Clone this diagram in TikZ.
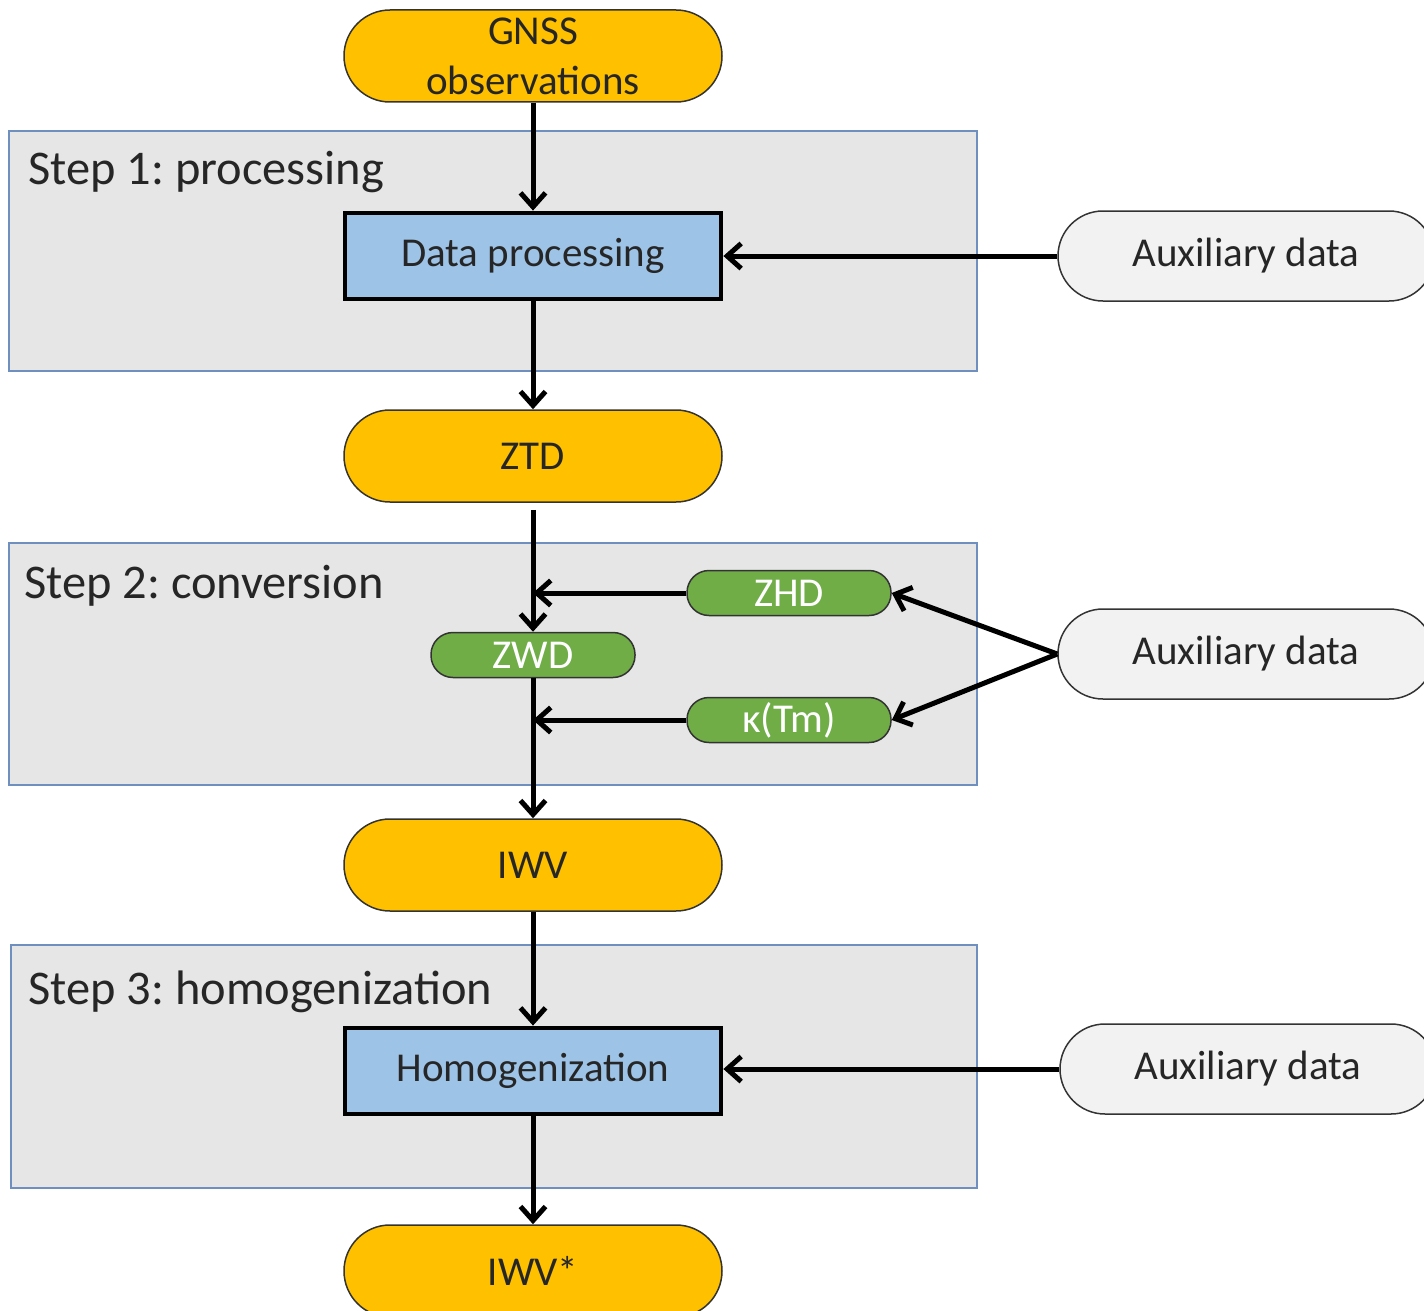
\documentclass[tikz,border=0pt]{standalone}
\usepackage{fontspec}
\setmainfont{Carlito}
\usetikzlibrary{arrows.meta}

\definecolor{gnssorange}{HTML}{FFC000}
\definecolor{procblue}{HTML}{9DC3E6}
\definecolor{convgreen}{HTML}{70AD47}
\definecolor{stepgray}{HTML}{E6E6E6}
\definecolor{stepedge}{HTML}{6F8FBF}
\definecolor{auxgray}{HTML}{F2F2F2}

\begin{document}
\frenchspacing
\begin{tikzpicture}[x=0.5pt, y=-0.5pt,
  every node/.style={font=\fontsize{20.5}{25}\selectfont, text=black!85, inner sep=0pt},
  pill/.style={draw=black!80, line width=0.75pt, fill=gnssorange, rounded corners=23pt,
    minimum width=189pt, minimum height=46pt},
  auxpill/.style={pill, fill=auxgray, minimum width=188pt, minimum height=45pt, rounded corners=22.5pt},
  greenpill/.style={draw=black!80, line width=0.75pt, fill=convgreen, text=white,
    rounded corners=11pt, minimum width=102pt, minimum height=22.5pt},
  procbox/.style={draw=black, line width=2.4pt, fill=procblue, minimum width=188pt, minimum height=43pt},
  stepbox/.style={fill=stepgray, draw=stepedge, line width=0.6pt},
  steplabel/.style={anchor=west, font=\fontsize{24.2}{29}\selectfont},
  conn/.style={line width=2.5pt, -{Straight Barb[length=7pt,width=12.5pt]}}]
\useasboundingbox (0,0) rectangle (1424,1311);

% step regions
\draw[stepbox] (9,131) rectangle (977,371);
\draw[stepbox] (9,543) rectangle (977,785);
\draw[stepbox] (11,945) rectangle (977,1188);
\node[steplabel] (step1) at (28,172) {Step 1: processing};
\node[steplabel] (step2) at (24,586) {Step 2: conversion};
\node[steplabel] (step3) at (28,992) {Step 3: homogenization};

% main chain
\node[pill, align=center] (gnss) at (533,56) {GNSS\\observations};
\node[procbox] (dataproc) at (533,256) {Data processing};
\node[pill] (ztd) at (533,456) {ZTD};
\node[greenpill] (zwd) at (533,655) {ZWD};
\node[greenpill] (zhd) at (789,593) {ZHD};
\node[greenpill] (kappa) at (789,720) {κ(Tm)};
\node[pill] (iwv) at (533,865) {IWV};
\node[procbox] (homog) at (533,1071) {Homogenization};
\node[pill] (iwvstar) at (533,1271) {IWV*};

% auxiliary inputs
\node[auxpill] (aux1) at (1246,256) {Auxiliary data};
\node[auxpill] (aux2) at (1246,654) {Auxiliary data};
\node[auxpill] (aux3) at (1248,1069) {Auxiliary data};

\coordinate (zhdin) at (zwd.north |- zhd.west);
\coordinate (kappain) at (zwd.north |- kappa.west);

\draw[conn] (gnss) -- (dataproc);
\draw[conn] (dataproc) -- (ztd);
\draw[conn, shorten <=3.5pt] (ztd) -- (zwd);
\draw[conn] (zwd) -- (iwv);
\draw[conn] (iwv) -- (homog);
\draw[conn] (homog) -- (iwvstar);
\draw[conn] (aux1) -- (dataproc);
\draw[conn] (aux3) -- (aux3 -| homog.east);
\draw[conn] (zhd) -- (zhdin);
\draw[conn] (kappa) -- (kappain);
\draw[conn] (aux2.west) -- (zhd.east);
\draw[conn] (aux2.west) -- (kappa.east);
\end{tikzpicture}
\end{document}
